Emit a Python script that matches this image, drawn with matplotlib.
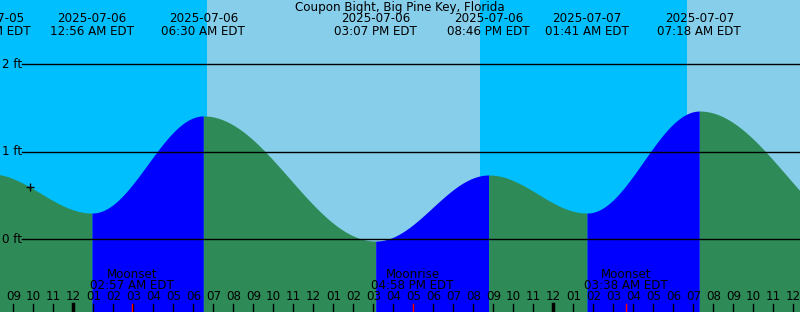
import numpy as np
import matplotlib
matplotlib.use("Agg")
import matplotlib.pyplot as plt
import matplotlib.transforms as mtransforms

# hours measured from 2025-07-06 00:00 EDT
t_start, t_end = -3.667, 36.333

# tide extremes (hours, feet)
tide_t = [-4.2, 0.933, 6.5, 15.117, 20.767, 25.683, 31.3, 40.0]
tide_h = [0.75, 0.30, 1.41, -0.02, 0.735, 0.30, 1.466, 0.0]
label_dates = ["2025-07-05", "2025-07-06", "2025-07-06", "2025-07-06",
               "2025-07-06", "2025-07-07", "2025-07-07"]
label_times = ["07:48 PM EDT", "12:56 AM EDT", "06:30 AM EDT", "03:07 PM EDT",
               "08:46 PM EDT", "01:41 AM EDT", "07:18 AM EDT"]

# daylight (sunrise, sunset)
day_spans = [(6.683, 20.333), (30.7, 44.0)]

moon_t = [2.95, 16.967, 27.633]
moon_names = ["Moonset", "Moonrise", "Moonset"]
moon_times = ["02:57 AM EDT", "04:58 PM EDT", "03:38 AM EDT"]

now_t = -2.17

title = "Coupon Bight, Big Pine Key, Florida"

FS = 8.6
W, H = 800, 312
fig = plt.figure(figsize=(W / 100, H / 100), dpi=100)
ax = fig.add_axes([0, 0, 1, 1])
ax.set_xlim(t_start, t_end)
ax.set_ylim(-0.831, 2.735)
ax.axis("off")

def py(y):
    return 1 - y / H

tr = mtransforms.blended_transform_factory(ax.transData, ax.transAxes)

# background night / day
ax.axvspan(t_start - 1, t_end + 1, color="#00BFFF", lw=0, zorder=0)
for a, b in day_spans:
    ax.axvspan(a, b, color="#87CEEB", lw=0, zorder=0)

# tide curve: cosine between successive extremes
def level(t):
    for i in range(len(tide_t) - 1):
        t0, t1 = tide_t[i], tide_t[i + 1]
        if t0 <= t <= t1:
            h0, h1 = tide_h[i], tide_h[i + 1]
            return h0 + (h1 - h0) * (1 - np.cos(np.pi * (t - t0) / (t1 - t0))) / 2
    return np.nan

for i in range(len(tide_t) - 1):
    t0, t1 = tide_t[i], tide_t[i + 1]
    tt = np.linspace(t0, t1, 400)
    hh = np.array([level(x) for x in tt])
    rising = tide_h[i + 1] > tide_h[i]
    ax.fill_between(tt, -1, hh, color="#0000FF" if rising else "#2E8B57",
                    lw=0, zorder=1)

# reference lines
ytr = mtransforms.blended_transform_factory(ax.transAxes, ax.transData)
for v in [0, 1, 2]:
    ax.plot([t_start + 22 / 20, t_end + 1], [v, v], color="black", lw=1, zorder=2)
    ax.text(2 / 800, v, f"{v} ft", transform=ytr, ha="left", va="center",
            fontsize=FS, zorder=3)

ax.plot([now_t], [level(now_t)], marker="+", color="black", ms=6, mew=1, zorder=3)

# top labels
ax.text(0.5, py(8), title, transform=ax.transAxes, ha="center", va="center", fontsize=FS)
for t, d, s in zip(tide_t, label_dates, label_times):
    ax.text(t, py(19), d, transform=tr, ha="center", va="center", fontsize=FS)
    ax.text(t, py(31.5), s, transform=tr, ha="center", va="center", fontsize=FS)

# moon events
for t, n, s in zip(moon_t, moon_names, moon_times):
    ax.text(t, py(274), n, transform=tr, ha="center", va="center", fontsize=FS)
    ax.text(t, py(285.5), s, transform=tr, ha="center", va="center", fontsize=FS)
    ax.plot([t, t], [py(304), 0], transform=tr, color="red", lw=1, zorder=4)

# hour ticks
for h in range(-3, 37):
    lab = (h % 12) or 12
    ax.text(h, py(297), f"{lab:02d}", transform=tr, ha="center", va="center", fontsize=FS)
    ax.plot([h, h], [py(304), 0], transform=tr, color="black",
            lw=2.5 if h % 24 == 0 else 1, zorder=3)

fig.savefig("out.png", dpi=100)
